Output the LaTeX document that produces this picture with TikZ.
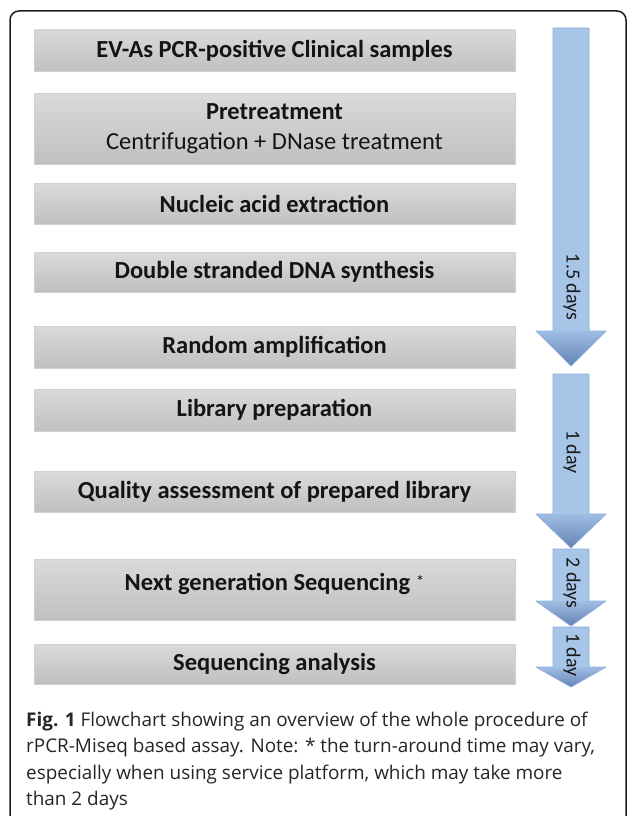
\documentclass[tikz,border=0pt]{standalone}
\usepackage{fontspec}
\setmainfont{Carlito}
\newfontfamily\capfont{Open Sans}
\definecolor{boxtop}{RGB}{218,218,218}
\definecolor{boxbot}{RGB}{192,192,192}
\definecolor{boxedge}{RGB}{208,208,208}
\definecolor{arrbody}{RGB}{167,197,231}
\definecolor{arredge}{RGB}{140,174,216}
\definecolor{arrlight}{RGB}{160,190,228}
\definecolor{arrdark}{RGB}{98,130,178}
\definecolor{frame}{RGB}{30,30,30}
\newcommand\tlarrow[3]{%
  \fill[arrbody] (553,#1) -- (589,#1) -- (589,#2) -- (606,#2) -- (571,#3) -- (536,#2) -- (553,#2) -- cycle;
  \shade[top color=arrlight, bottom color=arrdark] (536,#2) -- (606,#2) -- (571,#3) -- cycle;
  \draw[arredge, line width=0.7pt, line join=round] (553,#1) -- (589,#1) -- (589,#2) -- (606,#2) -- (571,#3) -- (536,#2) -- (553,#2) -- cycle;
}
\tikzset{
  stepbox/.style={minimum width=481pt, minimum height=#1, inner sep=0pt,
    top color=boxtop, bottom color=boxbot, draw=boxedge, line width=0.8pt,
    font=\fontsize{24.5}{30}\selectfont\bfseries, text=black!92, align=center},
  stepbox/.default=41pt,
  boxtext/.style={inner sep=0pt, font=\fontsize{24.5}{30}\selectfont\bfseries, text=black!92},
  daytext/.style={rotate=-90, inner sep=0pt, font=\fontsize{20}{22}\selectfont, text=black!90},
  captext/.style={anchor=base west, inner sep=0pt, font=\capfont\fontsize{18.9}{24}\selectfont, text=black!85},
}
\begin{document}
\begin{tikzpicture}[x=1pt, y=-1pt]
\useasboundingbox (0,0) rectangle (627,816);
\clip (0,0) rectangle (627,816);
\fill[white] (0,0) rectangle (627,816);
\draw[frame, line width=1.5pt, rounded corners=9pt] (10,840) -- (10,11) -- (626,11) -- (626,840);

\node[stepbox] (b1) at (274.5,50.5) {EV-As PCR-positive Clinical samples};
\node[stepbox=71pt] (b2) at (274.5,128.5) {Pretreatment\\\mdseries Centrifugation + DNase treatment};
\node[stepbox] (b3) at (274.5,203.5) {Nucleic acid extraction};
\node[stepbox=40pt] (b4) at (274.5,272) {Double stranded DNA synthesis};
\node[stepbox=42pt] (b5) at (274.5,347) {Random amplification};
\node[stepbox=42pt] (b6) at (274.5,410) {Library preparation};
\node[stepbox] (b7) at (274.5,491.5) {Quality assessment of prepared library};
\node[stepbox=61pt] (b8) at (274.5,589.5) {};
\node[boxtext] (t8) at ([yshift=6pt]b8.center) {Next generation Sequencing {\mdseries\fontsize{17}{18}\selectfont\raisebox{3pt}{*}}};
\node[stepbox=40pt] (b9) at (274.5,664) {Sequencing analysis};

\tlarrow{28}{331}{366}
\tlarrow{374}{514}{548}
\tlarrow{549}{601}{626}
\tlarrow{627}{667}{687}
\node[daytext] (d1) at (572,287) {1.5 days};
\node[daytext] (d2) at (572,452) {1 day};
\node[daytext] (d3) at (572,583) {2 days};
\node[daytext] (d4) at (572,655) {1 day};

\node[captext] (c1) at (26,726) {\textbf{Fig. 1} Flowchart showing an overview of the whole procedure of};
\node[captext] (c2) at (26,752.5) {rPCR-Miseq based assay. Note: * the turn-around time may vary,};
\node[captext] (c3) at (26,779) {especially when using service platform, which may take more};
\node[captext] (c4) at (26,805.5) {than 2 days};
\end{tikzpicture}
\end{document}
